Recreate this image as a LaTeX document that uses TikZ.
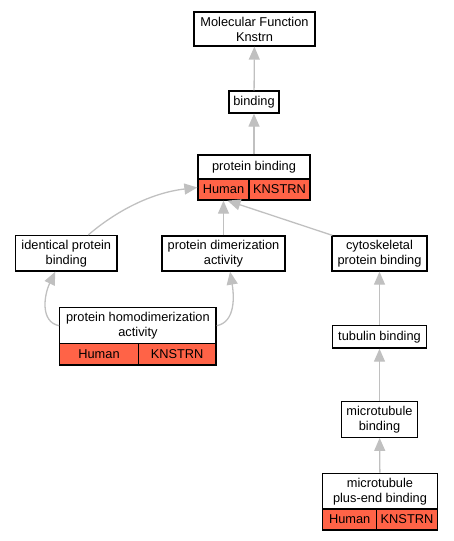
\documentclass[tikz,border=0pt]{standalone}
\usepackage{fontspec}
\setmainfont{Liberation Sans}
\usetikzlibrary{arrows.meta}
\definecolor{tomatored}{RGB}{255,99,71}
\definecolor{edgegray}{RGB}{192,192,192}
\begin{document}
\begin{tikzpicture}[x=1pt,y=-1pt,
  box/.style={draw=black, line width=1.3pt, fill=white, inner sep=0pt, align=center,
    font=\fontsize{12.8}{15}\selectfont},
  cell/.style={box, fill=tomatored},
  edge/.style={draw=edgegray, line width=1.3pt, -{Triangle[length=13pt,width=11pt]}}]
\useasboundingbox (0,0) rectangle (453,541);
% nodes
\node[box, minimum width=121pt, minimum height=34pt] (mf) at (254.5,29) {Molecular Function\\Knstrn};
\node[box, minimum width=50pt, minimum height=22pt] (binding) at (254,102) {binding};
\node[box, minimum width=112pt, minimum height=24pt] (pb) at (254,167) {protein binding};
\node[cell, minimum width=51pt, minimum height=21pt] (pbH) at (223.5,189.5) {Human};
\node[cell, minimum width=61pt, minimum height=21pt] (pbK) at (279.5,189.5) {KNSTRN};
\node[box, minimum width=101.5pt, minimum height=35.5pt] (ipb) at (66.3,253.3) {identical protein\\binding};
\node[box, minimum width=123pt, minimum height=35pt] (pda) at (223.5,253.5) {protein dimerization\\activity};
\node[box, minimum width=95pt, minimum height=35pt] (cpb) at (379.5,253.5) {cytoskeletal\\protein binding};
\node[box, minimum width=156.3pt, minimum height=36pt] (phda) at (137.9,325.7) {protein homodimerization\\activity};
\node[cell, minimum width=78.6pt, minimum height=21.3pt] (phdaH) at (99,354.4) {Human};
\node[cell, minimum width=77.7pt, minimum height=21.3pt] (phdaK) at (177.15,354.4) {KNSTRN};
\node[box, minimum width=94pt, minimum height=22.7pt] (tb) at (379.5,336.7) {tubulin binding};
\node[box, minimum width=76pt, minimum height=35.6pt] (mb) at (379.5,419.5) {microtubule\\binding};
\node[box, minimum width=114.6pt, minimum height=35.7pt] (pe) at (380,491.2) {microtubule\\plus-end binding};
\node[cell, minimum width=54pt, minimum height=21pt] (peH) at (349.7,519.5) {Human};
\node[cell, minimum width=60.6pt, minimum height=21pt] (peK) at (407,519.5) {KNSTRN};
% edges
\draw[edge] (binding) -- (mf);
\draw[edge] (pb) -- (binding);
\draw[edge] ([xshift=22pt]ipb.north) .. controls (115,212) and (150,193) .. ([yshift=2pt]pbH.west);
\draw[edge] (pda) -- (pbH);
\draw[edge] ([xshift=1pt]cpb.north west) -- ([xshift=4pt]pbH.south);
\draw[edge] (phda.west) .. controls (40,322) and (44,295) .. ([xshift=-11pt]ipb.south);
\draw[edge] (phda.east) .. controls (236,322) and (234,295) .. ([xshift=6.5pt]pda.south);
\draw[edge] (tb) -- (cpb);
\draw[edge] (mb) -- (tb);
\draw[edge] (pe) -- (mb);
\end{tikzpicture}
\end{document}
